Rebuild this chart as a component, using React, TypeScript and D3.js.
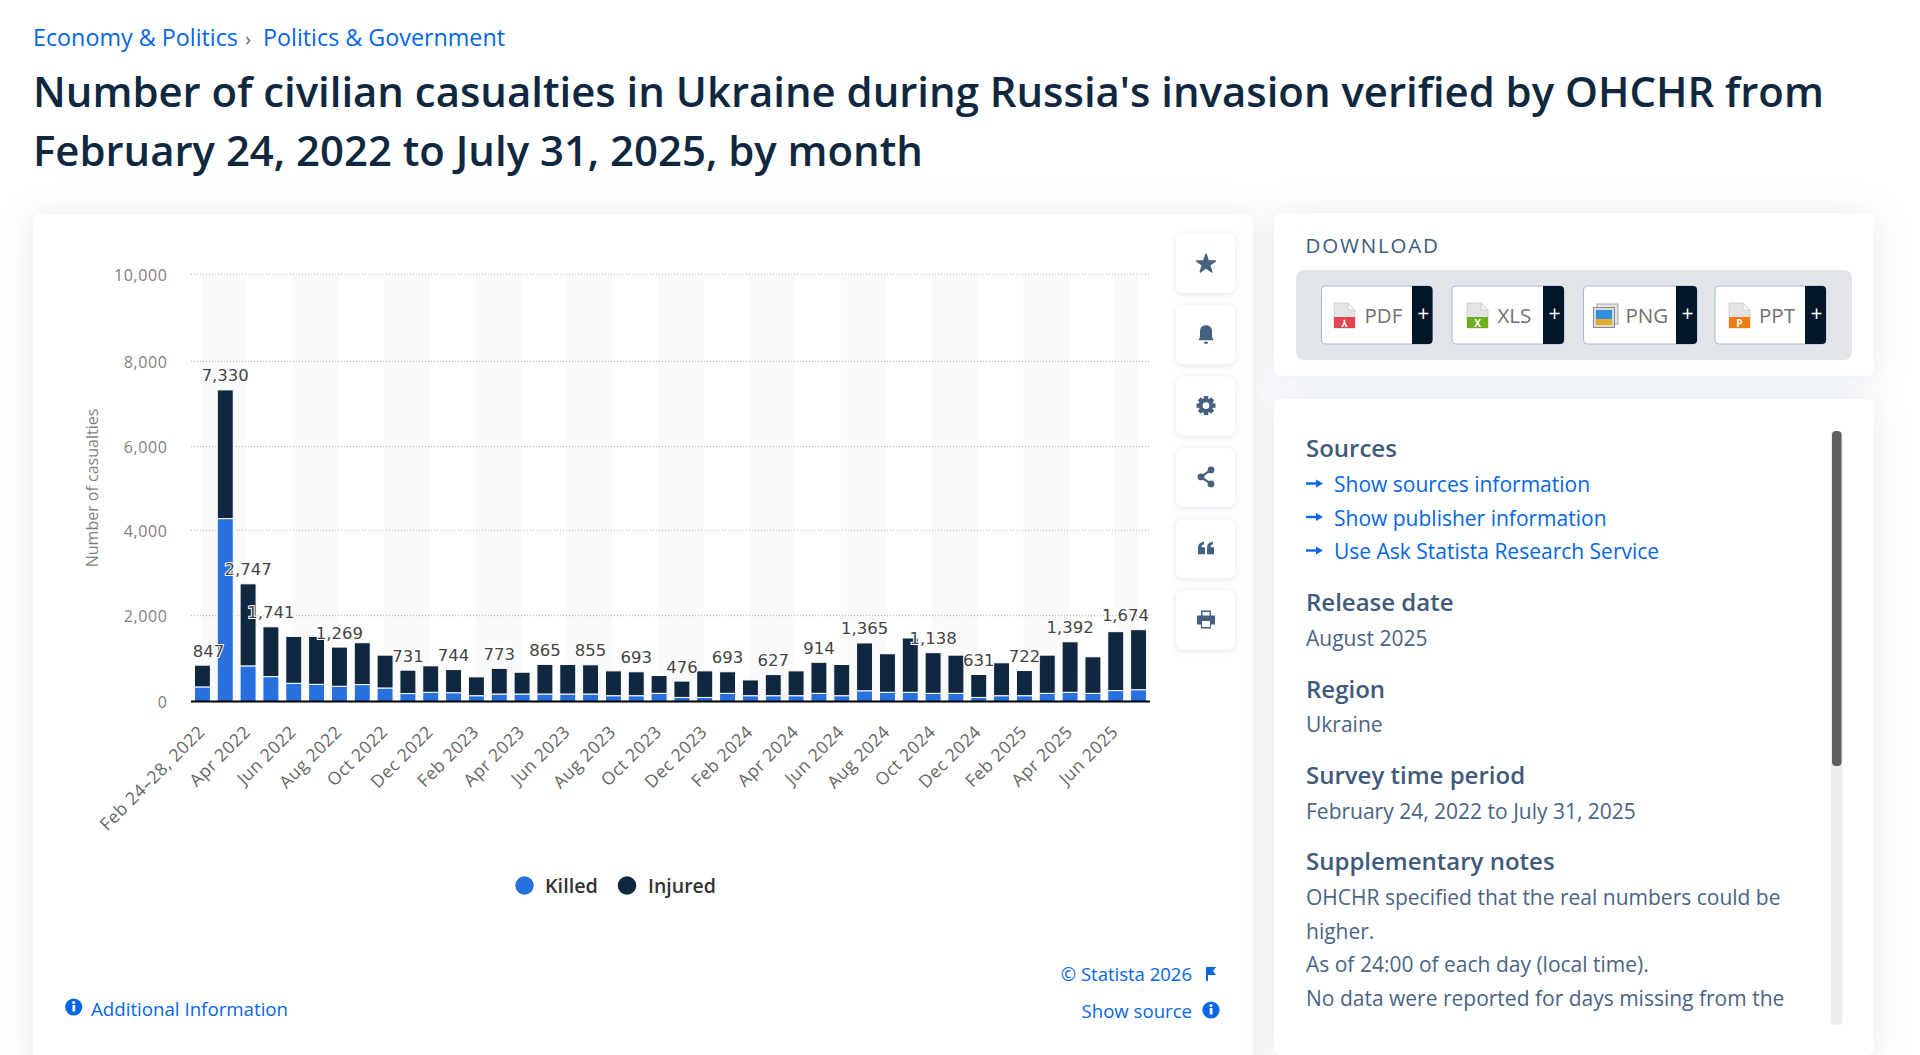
import React from "react";
import * as d3 from "d3";

const months = [
	"Feb 24-28, 2022", "Mar 2022", "Apr 2022", "May 2022", "Jun 2022", "Jul 2022", "Aug 2022", "Sep 2022", "Oct 2022", "Nov 2022", "Dec 2022",
	"Jan 2023", "Feb 2023", "Mar 2023", "Apr 2023", "May 2023", "Jun 2023", "Jul 2023", "Aug 2023", "Sep 2023", "Oct 2023", "Nov 2023", "Dec 2023",
	"Jan 2024", "Feb 2024", "Mar 2024", "Apr 2024", "May 2024", "Jun 2024", "Jul 2024", "Aug 2024", "Sep 2024", "Oct 2024", "Nov 2024", "Dec 2024",
	"Jan 2025", "Feb 2025", "Mar 2025", "Apr 2025", "May 2025", "Jun 2025", "Jul 2025",
];
const killed = [
	340, 4280, 830, 580, 425, 400, 355, 395, 315, 185, 215, 205, 135, 175, 175, 175, 175, 175, 135, 135, 190,
	95, 95, 190, 135, 135, 135, 190, 135, 250, 215, 215, 190, 190, 95, 135, 135, 190, 215, 190, 255, 275,
];
const injured = [
	507, 3050, 1917, 1161, 1093, 1118, 914, 975, 766, 546, 616, 539, 439, 598, 508, 690, 687, 680, 579, 558, 415,
	381, 619, 503, 368, 492, 579, 724, 727, 1115, 898, 1265, 948, 891, 536, 767, 587, 891, 1177, 852, 1373, 1399,
];
// only these totals get a label in the original
const labelledMonths = [0, 1, 2, 3, 6, 9, 11, 13, 15, 17, 19, 21, 23, 25, 27, 29, 32, 34, 36, 38, 41];
const yTicks = [0, 2000, 4000, 6000, 8000, 10000];
const sourceLinks = ["Show sources information", "Show publisher information", "Use Ask Statista Research Service"];

const FONT = "'Open Sans', 'Noto Sans', sans-serif";
const BLUE = "#2870dd";
const NAVY = "#0f2840";
const LINK = "#0666e5";
const SLATE = "#3f5a7a";
const BODY = "#4a6484";

const marginLeft = 191;
const plotRight = 1150;
// the screenshot is slightly uneven vertically, so the scale follows its gridlines
const yRange = [701.5, 615.7, 530.3, 446.7, 361.3, 274.3];

function fileIcon(x: number, color: string, mark: string) {
	return (
		<g transform={`translate(${x}, 303)`}>
			<path d="M0 0H14L21 7V25H0Z" fill="#e4e4e4" stroke="#c9c9c9" strokeWidth={0.8} />
			<path d="M14 0V7H21Z" fill="#f6f6f6" stroke="#c9c9c9" strokeWidth={0.8} />
			<rect x={0} y={14} width={21} height={11} fill={color} />
			<text x={10.5} y={23.5} textAnchor="middle" fontSize={10} fontWeight={700} fill="#fff" fontFamily={FONT}>
				{mark}
			</text>
		</g>
	);
}

function infoIcon(cx: number, cy: number) {
	return (
		<g>
			<circle cx={cx} cy={cy} r={8.6} fill={LINK} />
			<rect x={cx - 1.3} y={cy - 2} width={2.8} height={6.5} fill="#fff" />
			<circle cx={cx} cy={cy - 4.6} r={1.5} fill="#fff" />
		</g>
	);
}

function ToolIcon({ kind, cy }: { kind: number; cy: number }) {
	const color = "#46607f";
	const star = d3.symbol(d3.symbolStar, 105)() || "";
	const gear = d3.arc()({ innerRadius: 3.4, outerRadius: 7.4, startAngle: 0, endAngle: Math.PI * 2 }) || "";
	return (
		<g transform={`translate(1206, ${cy})`} fill={color}>
			{kind === 0 && <path d={star} transform="translate(0, 1)" stroke={color} strokeWidth={1.6} strokeLinejoin="round" />}
			{kind === 1 && (
				<g>
					<path d="M-7.5 6C-6 4-6 1-6 -2C-6 -7 -4 -9 0 -9C4 -9 6 -7 6 -2C6 1 6 4 7.5 6Z" />
					<rect x={-2} y={7.5} width={4} height={2} rx={1} />
				</g>
			)}
			{kind === 2 && (
				<g>
					<path d={gear} />
					{d3.range(8).map((i) => (
						<rect key={i} x={-2.2} y={-9.5} width={4.4} height={4} transform={`rotate(${i * 45})`} />
					))}
				</g>
			)}
			{kind === 3 && (
				<g>
					<path d="M5 -7L-5 0L5 7" fill="none" stroke={color} strokeWidth={2.2} />
					<circle cx={5} cy={-7} r={3.4} />
					<circle cx={-5} cy={0} r={3.4} />
					<circle cx={5} cy={7} r={3.4} />
				</g>
			)}
			{kind === 4 && (
				<g>
					<path d="M-8 6V0C-8 -4 -6 -6 -2 -6.500V-4C-4 -3.5 -4.5 -2 -4.5 -1H-1V6Z" />
					<path d="M1 6V0C1 -4 3 -6 7 -6.500V-4C5 -3.5 4.500 -2 4.500 -1H8V6Z" />
				</g>
			)}
			{kind === 5 && (
				<g>
					<path d="M-5 -4V-9H5V-4H9V5H5V9H-5V5H-9V-4Z" />
					<rect x={-3.5} y={-7.5} width={7} height={3.500} fill="#fff" />
					<rect x={-4} y={1.5} width={8} height={6} fill="#fff" />
				</g>
			)}
		</g>
	);
}

export default function App() {
	const x = d3.scaleBand<number>().domain(d3.range(months.length)).range([marginLeft, plotRight]).paddingInner(0.3).paddingOuter(0.15);
	const y = d3.scaleLinear().domain(yTicks).range(yRange);
	const step = x.step();
	const center = (i: number) => marginLeft + (i + 0.5) * step;

	const rows = months.map((_, i) => ({ i, Killed: killed[i], Injured: injured[i] }));
	const stacked = d3.stack<{ i: number; Killed: number; Injured: number }>().keys(["Killed", "Injured"])(rows);
	const colors = [BLUE, NAVY];
	const fmt = d3.format(",");

	// x labels every second month, bands run from tick to tick
	const tickIndexes = d3.range(0, months.length, 2);
	const stripeIndexes = tickIndexes.filter((_, k) => k % 2 === 0);

	const labelWidth = (v: number) => fmt(v).length * 10.4 - (v >= 1000 ? 5 : 0);

	return (
		<svg width={1920} height={1055} style={{ position: "fixed", left: 0, top: 0, background: "#fff" }} fontFamily={FONT}>
			<defs>
				<filter id="card" x="-10%" y="-20%" width="120%" height="140%">
					<feDropShadow dx={0} dy={2} stdDeviation={16} floodColor="#8fa3bf" floodOpacity={0.24} />
				</filter>
				<filter id="btn" x="-30%" y="-30%" width="160%" height="160%">
					<feDropShadow dx={0} dy={1} stdDeviation={3} floodColor="#8fa3bf" floodOpacity={0.3} />
				</filter>
			</defs>

			{/* Header */}
			<text x={33} y={46} fontSize={23.3} fill={LINK}>Economy & Politics</text>
			<text x={245} y={46} fontSize={20} fill="#54708f">›</text>
			<text x={263} y={46} fontSize={23.3} fill={LINK}>Politics & Government</text>
			<text x={33} y={107} fontSize={41.9} fontWeight={600} fill={NAVY}>
				Number of civilian casualties in Ukraine during Russia's invasion verified by OHCHR from
			</text>
			<text x={33} y={165.5} fontSize={41.9} fontWeight={600} fill={NAVY}>
				February 24, 2022 to July 31, 2025, by month
			</text>

			{/* Cards */}
			<rect x={33} y={214} width={1220} height={860} rx={7} fill="#fff" filter="url(#card)" />
			<rect x={1274} y={213} width={600} height={163} rx={7} fill="#fff" filter="url(#card)" />
			<rect x={1274} y={399} width={600} height={656} rx={7} fill="#fff" filter="url(#card)" />

			{/* Plot bands */}
			{stripeIndexes.map((i) => (
				<rect
					key={i}
					x={center(i) - 1}
					y={y(10000) + 2}
					width={Math.min(step * 2, center(months.length - 1) - center(i))}
					height={y(0) - y(10000) - 2}
					fill="#fafafa"
				/>
			))}

			{/* Y grid and ticks */}
			{yTicks.map((t) => (
				<g key={t}>
					{t > 0 && (
						<line x1={marginLeft} x2={plotRight} y1={y(t)} y2={y(t)} stroke="#b0b0b0" strokeDasharray="1 2" />
					)}
					<text x={167.5} y={y(t) + 6.5} textAnchor="end" fontSize={16} letterSpacing={0.6} fill="#7f7f7f">
						{fmt(t)}
					</text>
				</g>
			))}
			<text transform="translate(98, 488) rotate(-90)" textAnchor="middle" fontSize={16} fill="#7f7f7f">
				Number of casualties
			</text>

			{/* Stacked bars */}
			{stacked.map((s, k) => (
				<g key={s.key} fill={colors[k]} stroke="#fff" strokeWidth={1}>
					{s.map((d, i) => (
						<rect
							key={i}
							x={x(i)}
							y={y(d[1])}
							width={x.bandwidth()}
							height={y(d[0]) - y(d[1])}
						/>
					))}
				</g>
			))}
			<line x1={marginLeft} x2={plotRight} y1={y(0)} y2={y(0)} stroke="#000" strokeWidth={2} />

			{/* X tick labels */}
			{tickIndexes.map((i) => (
				<text
					key={i}
					transform={`translate(${center(i) + 3.5}, 733) rotate(-45)`}
					textAnchor="end"
					fontSize={17.5}
					letterSpacing={0.5}
					fill="#666"
				>
					{months[i].replace("-", "–")}
				</text>
			))}

			{/* Total labels */}
			{labelledMonths.map((i) => {
				const total = killed[i] + injured[i];
				const half = labelWidth(total) / 2;
				const cx = Math.max(marginLeft + half + 2, Math.min(plotRight - half - 1, center(i)));
				return (
					<text
						key={i}
						x={cx}
						y={y(total) - 8.5}
						textAnchor="middle"
						fontSize={16.5}
						fontFamily="'DejaVu Sans', sans-serif"
						fill="#444"
						stroke="#fff"
						strokeWidth={2}
						paintOrder="stroke"
					>
						{fmt(total)}
					</text>
				);
			})}

			{/* Legend */}
			<circle cx={524.5} cy={885.5} r={9.3} fill={BLUE} />
			<text x={545} y={893} fontSize={19.8} fontWeight={600} fill="#333">Killed</text>
			<circle cx={627} cy={885.5} r={9.3} fill={NAVY} />
			<text x={648} y={893} fontSize={19.5} fontWeight={600} fill="#333">Injured</text>

			{/* Card footer */}
			{infoIcon(73.7, 1007)}
			<text x={91} y={1016} fontSize={18.7} fill={LINK}>Additional Information</text>
			<text x={1192} y={980.5} textAnchor="end" fontSize={18.5} fill={LINK}>© Statista 2026</text>
			<path d="M1206 967H1216L1213 971L1216 975H1208V981H1206Z" fill={LINK} />
			<text x={1192} y={1018} textAnchor="end" fontSize={18.6} fill={LINK}>Show source</text>
			{infoIcon(1211, 1010)}

			{/* Toolbar */}
			{d3.range(6).map((i) => (
				<g key={i}>
					<rect x={1176} y={234 + i * 71.3} width={59} height={59} rx={7} fill="#fff" filter="url(#btn)" />
					<ToolIcon kind={i} cy={263 + i * 71.3} />
				</g>
			))}

			{/* Download card */}
			<text x={1305.5} y={253} fontSize={20.5} letterSpacing={1.8} fontWeight={500} fill="#3b5a80">DOWNLOAD</text>
			<rect x={1296} y={270} width={556} height={90} rx={8} fill="#e1e4e8" />
			{[
				{ x: 1321.5, w: 111, dark: 1412, label: "PDF", tx: 1364.5 },
				{ x: 1452, w: 112, dark: 1543, label: "XLS", tx: 1497.5 },
				{ x: 1583.5, w: 113.5, dark: 1676, label: "PNG", tx: 1625.5 },
				{ x: 1715, w: 111, dark: 1805, label: "PPT", tx: 1759 },
			].map((b) => (
				<g key={b.label}>
					<rect x={b.x} y={286} width={b.w} height={58} rx={4} fill="#fff" stroke="#a9bcd4" />
					<path
						d={`M${b.dark} 286H${b.x + b.w - 4}a4 4 0 0 1 4 4V340a4 4 0 0 1 -4 4H${b.dark}Z`}
						fill="#021529"
					/>
					<text x={(b.dark + b.x + b.w) / 2 + 1} y={321} textAnchor="middle" fontSize={21} fill="#fff">+</text>
					<text x={b.tx} y={323} fontSize={20.5} fill="#707070">{b.label}</text>
				</g>
			))}
			{fileIcon(1334, "#e0444c", "⅄")}
			{fileIcon(1467, "#6fae1e", "X")}
			<g>
				<rect x={1597} y={304} width={21} height={20} fill="#e4e4e4" stroke="#a5a5a5" />
				<rect x={1593.500} y={307.500} width={21} height={20} fill="#d9d9d9" stroke="#8e8e8e" />
				<rect x={1596} y={310} width={16} height={15} fill="#2f8fe0" />
				<rect x={1596} y={319} width={16} height={6} fill="#e5ac2a" />
			</g>
			{fileIcon(1729, "#ef7d14", "P")}

			{/* Sources card */}
			<text x={1306} y={457} fontSize={24} fontWeight={600} fill={SLATE}>Sources</text>
			{sourceLinks.map((s, i) => (
				<g key={s}>
					<path
						d={`M1306 ${483.5 + i * 33.5}H1318`}
						stroke={LINK}
						strokeWidth={2.4}
					/>
					<path
						d={`M1316 ${479.5 + i * 33.5}L1323 ${483.5 + i * 33.5}L1316 ${487.5 + i * 33.5}Z`}
						fill={LINK}
					/>
					<text x={1334} y={492 + i * 33.5} fontSize={21} fill={LINK}>{s}</text>
				</g>
			))}
			<text x={1306} y={610.5} fontSize={24} fontWeight={600} fill={SLATE}>Release date</text>
			<text x={1306} y={645.5} fontSize={21} fill={BODY}>August 2025</text>
			<text x={1306} y={697.5} fontSize={24} fontWeight={600} fill={SLATE}>Region</text>
			<text x={1306} y={732} fontSize={21} fill={BODY}>Ukraine</text>
			<text x={1306} y={783.5} fontSize={24} fontWeight={600} fill={SLATE}>Survey time period</text>
			<text x={1306} y={818.5} fontSize={21} fill={BODY}>February 24, 2022 to July 31, 2025</text>
			<text x={1306} y={869.5} fontSize={24} fontWeight={600} fill={SLATE}>Supplementary notes</text>
			<text x={1306} y={904.5} fontSize={21} fill={BODY}>OHCHR specified that the real numbers could be</text>
			<text x={1306} y={938.5} fontSize={21} fill={BODY}>higher.</text>
			<text x={1306} y={972} fontSize={21} fill={BODY}>As of 24:00 of each day (local time).</text>
			<text x={1306} y={1006} fontSize={21} fill={BODY}>No data were reported for days missing from the</text>
			<rect x={1831} y={431} width={11.5} height={594} rx={4} fill="#e9edf2" />
			<rect x={1832} y={431} width={9.500} height={335} rx={4} fill="#5c5f62" />
		</svg>
	);
}
